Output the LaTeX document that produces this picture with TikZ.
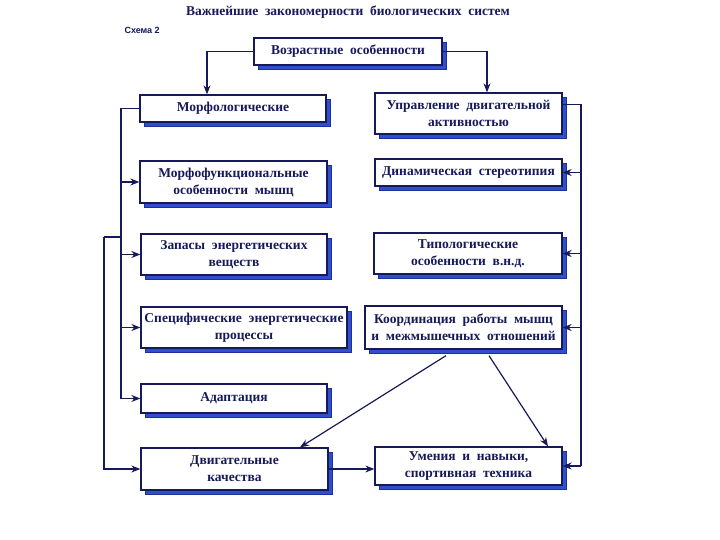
\documentclass[tikz,border=0pt]{standalone}
\usepackage{fontspec}
\setmainfont{Liberation Serif}
\setsansfont{Liberation Sans}
\usetikzlibrary{shadows,arrows.meta,calc}
\definecolor{navy}{HTML}{16195A}
\definecolor{shblue}{HTML}{2F4FCF}
\definecolor{shedge}{HTML}{1E2E9A}
\tikzset{
  bx/.style={draw=navy, fill=white, line width=1.3pt, text=navy, align=center,
    inner sep=0pt, font=\bfseries\fontsize{13.5}{17}\selectfont,
    drop shadow={shadow xshift=4.5pt, shadow yshift=-4.5pt, fill=shblue, draw=shedge, opacity=1}},
  ln/.style={draw=navy, line width=1.2pt},
  ar/.style={ln, -{Stealth[length=9pt,width=7pt]}},
}
\begin{document}
\begin{tikzpicture}[x=1pt,y=-1pt]
\useasboundingbox[fill=white] (0,0) rectangle (720,540);
\node[text=navy, font=\bfseries\fontsize{13.5}{16}\selectfont] (title) at (348,12) {Важнейшие\ \ закономерности\ \ биологических\ \ систем};
\node[text=navy, font=\sffamily\bfseries\fontsize{9}{10}\selectfont, anchor=west] (schema) at (121,30) {Схема 2};

\node[bx, minimum width=188pt, minimum height=27pt] (voz) at (348,51.5) {Возрастные\ \ особенности};
\node[bx, minimum width=186pt, minimum height=27pt] (morf) at (233,108.5) {Морфологические};
\node[bx, minimum width=187pt, minimum height=42pt] (morfun) at (233.5,182) {Морфофункциональные\\особенности\ \ мышц};
\node[bx, minimum width=186pt, minimum height=41pt] (zap) at (234,254.5) {Запасы\ \ энергетических\\веществ};
\node[bx, minimum width=206pt, minimum height=41pt] (spec) at (244,327.5) {Специфические\ \ энергетические\\процессы};
\node[bx, minimum width=186pt, minimum height=29pt] (adapt) at (234,398.5) {Адаптация};
\node[bx, minimum width=187pt, minimum height=42pt] (dvig) at (234.5,469) {Двигательные\\качества};

\node[bx, minimum width=187pt, minimum height=41pt] (upr) at (468.5,113.5) {Управление\ \ двигательной\\активностью};
\node[bx, minimum width=187pt, minimum height=27pt] (dyn) at (468.5,172.5) {Динамическая\ \ стереотипия};
\node[bx, minimum width=188pt, minimum height=41pt] (typ) at (468,253.5) {Типологические\\особенности\ \ в.н.д.};
\node[bx, minimum width=197pt, minimum height=43pt] (koord) at (463.5,327.5) {Координация\ \ работы\ \ мышц\\и\ \ межмышечных\ \ отношений};
\node[bx, minimum width=187pt, minimum height=38pt] (umen) at (468.5,466) {Умения\ \ и\ \ навыки,\\спортивная\ \ техника};

% top
\coordinate (tl) at (207,51.5);
\coordinate (tr) at (487,51.5);
\draw[ar] (voz.west) -- (tl) -- (tl |- morf.north);
\draw[ar] (voz.east) -- (tr) -- (tr |- upr.north);

% left inner
\coordinate (li) at (121,108.5);
\coordinate (lib) at (121,398.5);
\draw[ln] (morf.west) -- (li) -- (lib);
\draw[ar] (li |- morfun.west) -- (morfun.west);
\draw[ar] (li |- zap.west) -- (zap.west);
\draw[ar] (li |- spec.west) -- (spec.west);
\draw[ar] (lib) -- (adapt.west);
% left outer
\coordinate (lo1) at (121,237);
\coordinate (lo2) at (104,237);
\draw[ln] (lo1) -- (lo2);
\draw[ar] (lo2) -- (lo2 |- dvig.west) -- (dvig.west);

% right
\coordinate (ru) at ([yshift=9pt]upr.east);
\coordinate (r1) at (581,104.5);
\draw[ln] (ru) -- (r1) -- (r1 |- umen.east);
\draw[ar] (r1 |- dyn.east) -- (dyn.east);
\draw[ar] (r1 |- typ.east) -- (typ.east);
\draw[ar] (r1 |- koord.east) -- (koord.east);
\draw[ar] (r1 |- umen.east) -- (umen.east);

% diagonals
\coordinate (d1) at ([xshift=-17.5pt,yshift=-6pt]koord.south);
\coordinate (d2) at ([xshift=25.5pt,yshift=-6pt]koord.south);
\draw[ar] (d1) -- ([xshift=65.5pt]dvig.north);
\draw[ar] (d2) -- ([xshift=79.5pt]umen.north);
\draw[ar] (dvig.east) -- (dvig.east -| umen.west);
\end{tikzpicture}
\end{document}
